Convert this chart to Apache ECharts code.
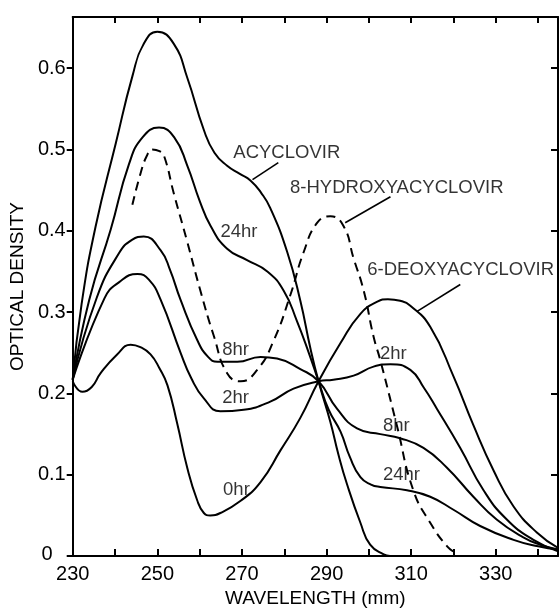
<!DOCTYPE html>
<html><head><meta charset="utf-8">
<script src="https://cdn.jsdelivr.net/npm/echarts@6/dist/echarts.min.js"></script>
<style>html,body{margin:0;padding:0;background:#fff}#c{width:559px;height:613px}</style>
</head><body><div id="c"></div>
<script>
// ---- axis ticks / labels ----
const xTickValues = [230,240,250,260,270,280,290,300,310,320,330,340];
const xLabelValues = [230,250,270,290,310,330];
const yTickValues = [0,0.1,0.2,0.3,0.4,0.5,0.6];
const xMin = 230, xMax = 344.7, yMin = 0, yMax = 0.663;

// ---- curves: [wavelength, optical density] ----
const acyclovir = [[230,0.217],[232.1,0.31],[235.4,0.405],[240.2,0.508],[244.1,0.59],[246.8,0.63],[250,0.645],[253.9,0.63],[257.1,0.588],[261,0.524],[263.5,0.496],[266.5,0.480],[269.5,0.470],[272,0.462],[274.5,0.447],[276.7,0.428],[280.7,0.374],[283.8,0.314],[286.2,0.255],[288.1,0.215],[290.9,0.165],[292.8,0.125],[294.8,0.089],[298,0.041],[300.3,0.014],[303.5,0.002],[305,0]];
const hr24 = [[230,0.217],[233.9,0.315],[239,0.402],[243.3,0.482],[246.5,0.515],[250.4,0.527],[254,0.515],[257.1,0.48],[260,0.437],[262.6,0.406],[266.5,0.378],[271.2,0.364],[276,0.350],[279.9,0.326],[283,0.289],[285.8,0.250],[288.1,0.215],[290.5,0.18],[293.3,0.153],[295.5,0.122],[298,0.097],[300.5,0.088],[302.7,0.085],[309,0.081],[314.5,0.073],[320,0.057],[326.3,0.037],[334.2,0.020],[340,0.012],[344.7,0.008]];
const hr8 = [[230,0.217],[235.7,0.318],[241,0.373],[244,0.389],[246.8,0.393],[250.8,0.376],[253,0.352],[255.5,0.315],[259.4,0.266],[262,0.245],[264.2,0.239],[268.9,0.239],[274.4,0.245],[278.3,0.243],[283.8,0.230],[288.1,0.215],[292.5,0.181],[297.2,0.157],[302.7,0.150],[307.4,0.145],[312.9,0.133],[318.4,0.109],[324.7,0.073],[330.2,0.045],[336.5,0.023],[340.5,0.014],[344.7,0.008]];
const hr2 = [[230,0.217],[237.5,0.317],[241,0.337],[245.3,0.347],[248,0.340],[250.8,0.315],[255.5,0.250],[258,0.219],[261,0.194],[264.9,0.178],[270.4,0.180],[276.7,0.190],[282.2,0.206],[288.1,0.215],[291.6,0.217],[296.4,0.222],[301.1,0.233],[305.1,0.236],[309.8,0.229],[313,0.207],[316.1,0.181],[321.6,0.133],[327.1,0.081],[332.6,0.045],[338.9,0.020],[344.7,0.006]];
const hr0Deoxy = [[230,0.215],[232.3,0.202],[234.5,0.208],[236.6,0.225],[240.5,0.248],[243.7,0.260],[246,0.257],[248.4,0.248],[250.5,0.231],[252.4,0.210],[254.7,0.163],[257.1,0.108],[259.4,0.069],[261,0.053],[262.5,0.050],[264.9,0.053],[269.7,0.068],[274.4,0.091],[279.1,0.130],[283.8,0.170],[288.1,0.215],[293.3,0.262],[298,0.298],[302,0.313],[304.5,0.316],[307.4,0.314],[309.8,0.308],[314.5,0.282],[320,0.221],[324.7,0.161],[329.5,0.105],[334.2,0.061],[339.7,0.029],[344.7,0.010]];
const hydroxy8 = [[244.1,0.432],[246,0.47],[247.5,0.492],[248.8,0.500],[250.5,0.498],[251.6,0.492],[253.9,0.446],[257.1,0.386],[260.2,0.326],[263.4,0.270],[266.5,0.225],[269.7,0.215],[273.6,0.229],[277.5,0.265],[281.5,0.322],[284.6,0.374],[287.8,0.410],[290.9,0.418],[294,0.406],[296.4,0.366],[298.8,0.326],[301.1,0.270],[302.7,0.241],[306.6,0.161],[310.5,0.081],[314.5,0.041],[318.5,0.012],[320.8,0.003]];

// ---- annotations (data coordinates) ----
const labelTexts = ['ACYCLOVIR','8-HYDROXYACYCLOVIR','6-DEOXYACYCLOVIR','24hr','8hr','2hr','0hr','2hr','8hr','24hr'];
const labelX = [280.6,306.6,321.7,269.3,268.5,268.5,268.7,305.8,306.5,307.7];
const labelY = [0.496,0.453,0.352,0.399,0.253,0.194,0.081,0.249,0.160,0.100];
const arrowFrom = [[278.6,0.484],[305.1,0.442],[321.6,0.334]];
const arrowTo = [[272.5,0.463],[294.4,0.410],[311.4,0.301]];

const FONT = 'Liberation Sans';
const chart = echarts.init(document.getElementById('c'));

function curve(data, dashed) {
  return {
    type: 'line', data: data, showSymbol: false, symbol: 'none',
    smooth: 0.5, silent: true,
    lineStyle: { color: '#000', width: 2, type: dashed ? [9, 6] : 'solid' }
  };
}

const fmtY = v => {
  if (Math.abs(v) < 1e-9) return '{z|0}';
  return v.toFixed(1);
};

chart.setOption({
  animation: false,
  backgroundColor: '#fff',
  grid: { left: 72, right: 1, top: 17, bottom: 46 },
  xAxis: [{
    type: 'value', min: xMin, max: xMax, position: 'bottom',
    axisLine: { show: true, onZero: false, lineStyle: { color: '#000', width: 2 } },
    axisTick: { show: true, inside: true, length: 7, customValues: xTickValues, lineStyle: { color: '#000', width: 2 } },
    axisLabel: { customValues: xLabelValues, color: '#000', fontFamily: FONT, fontSize: 20, margin: 8 },
    splitLine: { show: false },
    name: 'WAVELENGTH (mm)', nameLocation: 'middle', nameGap: 32,
    nameTextStyle: { color: '#000', fontFamily: FONT, fontSize: 19 }
  }, {
    type: 'value', min: xMin, max: xMax, position: 'top',
    axisLine: { show: true, onZero: false, lineStyle: { color: '#000', width: 2 } },
    axisTick: { show: true, inside: true, length: 6, customValues: xTickValues, lineStyle: { color: '#000', width: 2 } },
    axisLabel: { show: false }, splitLine: { show: false }
  }],
  yAxis: [{
    type: 'value', min: yMin, max: yMax, position: 'left',
    axisLine: { show: true, onZero: false, lineStyle: { color: '#000', width: 2 } },
    axisTick: { show: true, inside: false, length: 6, customValues: yTickValues, lineStyle: { color: '#000', width: 2 } },
    axisLabel: { customValues: yTickValues, formatter: fmtY, color: '#000', fontFamily: FONT, fontSize: 20, margin: 7,
      rich: { z: { fontFamily: FONT, fontSize: 20, color: '#000', padding: [0, 13, 4, 0] } } },
    splitLine: { show: false },
    name: 'OPTICAL DENSITY', nameLocation: 'middle', nameGap: 43,
    nameTextStyle: { color: '#000', fontFamily: FONT, fontSize: 19 }
  }, {
    type: 'value', min: yMin, max: yMax, position: 'right',
    axisLine: { show: true, onZero: false, lineStyle: { color: '#000', width: 2 } },
    axisTick: { show: true, inside: true, length: 7, customValues: yTickValues, lineStyle: { color: '#000', width: 2 } },
    axisLabel: { show: false }, splitLine: { show: false }
  }],
  series: [
    curve(acyclovir, false),
    curve(hr24, false),
    curve(hr8, false),
    curve(hr2, false),
    curve(hr0Deoxy, false),
    curve(hydroxy8, true),
    {
      type: 'scatter', silent: true, symbolSize: 0.1,
      itemStyle: { color: 'rgba(0,0,0,0)' },
      data: labelTexts.map((t, i) => ({ name: t, value: [labelX[i], labelY[i]] })),
      label: { show: true, position: 'inside', formatter: p => p.name, color: '#000', fontFamily: FONT,
        fontSize: 18.5 },
      markLine: {
        silent: true, symbol: ['none', 'arrow'], symbolSize: [0, 11],
        lineStyle: { color: '#000', width: 1.6, type: 'solid' },
        label: { show: false },
        data: arrowFrom.map((f, i) => [{ coord: f }, { coord: arrowTo[i] }])
      }
    }
  ]
});
</script>
</body></html>
